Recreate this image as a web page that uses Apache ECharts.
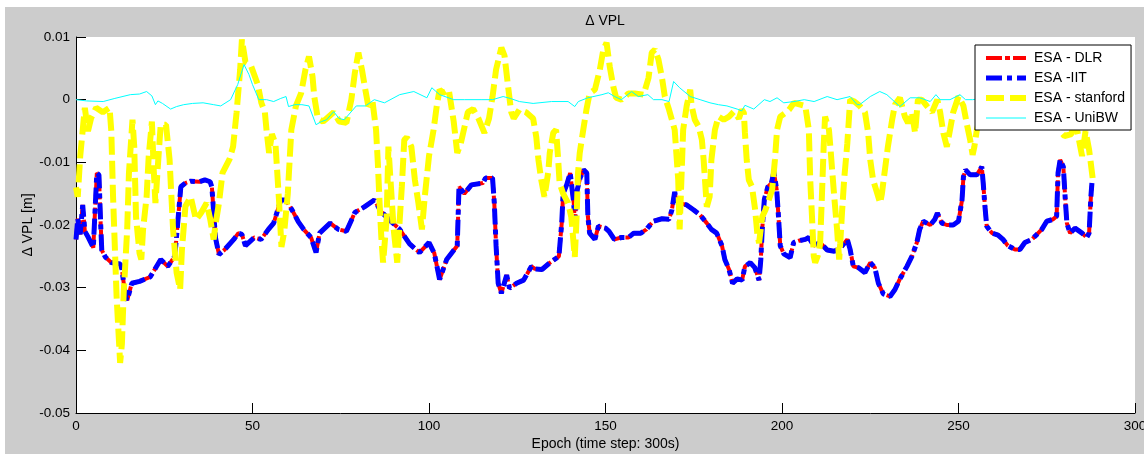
<!DOCTYPE html>
<html lang="en">
<head>
    <meta charset="UTF-8">
    <title>Delta VPL</title>
    <script src="https://cdn.jsdelivr.net/npm/echarts@6/dist/echarts.min.js"></script>
    <style>
        body { margin: 0; background: #ffffff; }
        #main {
            position: absolute;
            left: 5px;
            top: 7px;
            width: 1139px;
            height: 447px;
        }
    </style>
</head>
<body>
<div id="main"></div>
<script>
    // ESA - IIT (blue) : epochs and delta VPL [m]
    const iitEpoch = [0,0.5,1.2,1.9,2.5,3.5,4.9,5.9,6.5,7.0,7.3,8.3,10,12.5,13,14,14.5,15.8,18,21,24,26,28,29.7,31,32.5,35,36.5,38,38.5,39.5,40.5,42,44.7,46,47,48,50.5,52.4,54.5,56,58,59.5,61.5,63,64.5,66.6,68,69,72,74.3,76.6,79,81.7,84.5,86.5,89.4,91.7,94.5,97.3,100,101.5,103,105,108,108.5,110,112,115.3,116,118,118.5,119,119.6,120.5,122,122.8,124.8,126.8,129,130,132,134.3,136.8,137.6,138,139,140,141,141.3,142,142.8,143.8,144.7,145,145.5,147,148,150,151,152.5,154.5,156.5,158,160,161.6,163.5,166,168,168.8,169.6,170,171,173,175,176.8,178.7,180,181.5,183,183.8,185,186,187.3,188.7,189.5,191,192.3,193.5,194,194.4,195,196,197,197.7,198.5,199,199.5,200.5,202.3,203.3,204.8,206.6,207.6,209,210.8,212.8,214.8,216.5,218.5,219.3,220.2,221.6,223.5,225,226.3,227.3,228.7,230.6,232,233.4,235.4,236.8,238.2,239,240,242,243.3,244,245.3,246.7,248.5,250,251,251.4,252,253.3,255.2,256.6,257,257.5,258,259.5,261.2,262.6,264,266,267.4,268.8,270.8,272.2,273.6,275,276.8,277.8,278.2,278.8,279.7,280.2,280.7,281.6,283,285,286.3,287,287.5,287.8];
    const iitValue = [-0.0223,-0.019,-0.0215,-0.0168,-0.021,-0.022,-0.0236,-0.0117,-0.012,-0.020,-0.024,-0.0251,-0.026,-0.0262,-0.027,-0.0314,-0.032,-0.0293,-0.029,-0.0283,-0.0255,-0.0266,-0.025,-0.0139,-0.0133,-0.013,-0.0131,-0.0128,-0.0131,-0.014,-0.022,-0.0247,-0.024,-0.0223,-0.0213,-0.0215,-0.0233,-0.022,-0.0223,-0.0207,-0.0197,-0.016,-0.016,-0.0179,-0.0195,-0.0207,-0.022,-0.0244,-0.0213,-0.0197,-0.0207,-0.021,-0.018,-0.0171,-0.016,-0.0179,-0.0195,-0.0207,-0.023,-0.0244,-0.0228,-0.0245,-0.0287,-0.0255,-0.0233,-0.0139,-0.015,-0.0136,-0.0133,-0.0125,-0.0125,-0.0165,-0.0233,-0.0293,-0.0309,-0.028,-0.0301,-0.0293,-0.0288,-0.0266,-0.027,-0.0271,-0.026,-0.025,-0.0197,-0.015,-0.0136,-0.0117,-0.0165,-0.0197,-0.0144,-0.0125,-0.0112,-0.0117,-0.0186,-0.0213,-0.0223,-0.0202,-0.0205,-0.021,-0.0223,-0.022,-0.022,-0.0213,-0.0213,-0.0207,-0.0194,-0.019,-0.0191,-0.0176,-0.0147,-0.016,-0.0165,-0.0168,-0.0176,-0.0184,-0.0197,-0.0207,-0.0213,-0.0233,-0.0255,-0.0271,-0.0293,-0.0286,-0.0288,-0.0266,-0.026,-0.0268,-0.0288,-0.0255,-0.0207,-0.0159,-0.0139,-0.0133,-0.0115,-0.0144,-0.0186,-0.0233,-0.0246,-0.0252,-0.0228,-0.0225,-0.0223,-0.022,-0.0233,-0.0228,-0.024,-0.0242,-0.0237,-0.0223,-0.0239,-0.0266,-0.0268,-0.0276,-0.026,-0.0268,-0.0293,-0.031,-0.0314,-0.0303,-0.0286,-0.0266,-0.025,-0.0228,-0.0207,-0.0194,-0.02,-0.0191,-0.0181,-0.0197,-0.02,-0.02,-0.0194,-0.016,-0.0123,-0.0112,-0.012,-0.012,-0.0107,-0.0133,-0.0171,-0.0202,-0.0213,-0.0216,-0.0223,-0.0233,-0.0239,-0.0239,-0.0228,-0.0223,-0.0215,-0.0207,-0.0194,-0.0191,-0.0186,-0.0117,-0.0096,-0.0107,-0.0155,-0.0197,-0.0213,-0.0205,-0.0213,-0.022,-0.0213,-0.0155,-0.0133];

    // ESA - DLR (red) : practically identical to IIT in the picture
    const dlrEpoch = [0,0.5,1.2,1.9,2.5,3.5,4.9,5.9,6.5,7.0,7.3,8.3,10,12.5,13,14,14.5,15.8,18,21,24,26,28,29.7,31,32.5,35,36.5,38,38.5,39.5,40.5,42,44.7,46,47,48,50.5,52.4,54.5,56,58,59.5,61.5,63,64.5,66.6,68,69,72,74.3,76.6,79,81.7,84.5,86.5,89.4,91.7,94.5,97.3,100,101.5,103,105,108,108.5,110,112,115.3,116,118,118.5,119,119.6,120.5,122,122.8,124.8,126.8,129,130,132,134.3,136.8,137.6,138,139,140,141,141.3,142,142.8,143.8,144.7,145,145.5,147,148,150,151,152.5,154.5,156.5,158,160,161.6,163.5,166,168,168.8,169.6,170,171,173,175,176.8,178.7,180,181.5,183,183.8,185,186,187.3,188.7,189.5,191,192.3,193.5,194,194.4,195,196,197,197.7,198.5,199,199.5,200.5,202.3,203.3,204.8,206.6,207.6,209,210.8,212.8,214.8,216.5,218.5,219.3,220.2,221.6,223.5,225,226.3,227.3,228.7,230.6,232,233.4,235.4,236.8,238.2,239,240,242,243.3,244,245.3,246.7,248.5,250,251,251.4,252,253.3,255.2,256.6,257,257.5,258,259.5,261.2,262.6,264,266,267.4,268.8,270.8,272.2,273.6,275,276.8,277.8,278.2,278.8,279.7,280.2,280.7,281.6,283,285,286.3,287,287.5,287.8];
    const dlrValue = [-0.0223,-0.019,-0.0215,-0.0168,-0.021,-0.022,-0.0236,-0.0117,-0.012,-0.020,-0.024,-0.0251,-0.026,-0.0262,-0.027,-0.0314,-0.032,-0.0293,-0.029,-0.0283,-0.0255,-0.0266,-0.025,-0.0139,-0.0133,-0.013,-0.0131,-0.0128,-0.0131,-0.014,-0.022,-0.0247,-0.024,-0.0223,-0.0213,-0.0215,-0.0233,-0.022,-0.0223,-0.0207,-0.0197,-0.016,-0.016,-0.0179,-0.0195,-0.0207,-0.022,-0.0244,-0.0213,-0.0197,-0.0207,-0.021,-0.018,-0.0171,-0.016,-0.0179,-0.0195,-0.0207,-0.023,-0.0244,-0.0228,-0.0245,-0.0287,-0.0255,-0.0233,-0.0139,-0.015,-0.0136,-0.0133,-0.0125,-0.0125,-0.0165,-0.0233,-0.0293,-0.0309,-0.028,-0.0301,-0.0293,-0.0288,-0.0266,-0.027,-0.0271,-0.026,-0.025,-0.0197,-0.015,-0.0136,-0.0117,-0.0165,-0.0197,-0.0144,-0.0125,-0.0112,-0.0117,-0.0186,-0.0213,-0.0223,-0.0202,-0.0205,-0.021,-0.0223,-0.022,-0.022,-0.0213,-0.0213,-0.0207,-0.0194,-0.019,-0.0191,-0.0176,-0.0147,-0.016,-0.0165,-0.0168,-0.0176,-0.0184,-0.0197,-0.0207,-0.0213,-0.0233,-0.0255,-0.0271,-0.0293,-0.0286,-0.0288,-0.0266,-0.026,-0.0268,-0.0288,-0.0255,-0.0207,-0.0159,-0.0139,-0.0133,-0.0115,-0.0144,-0.0186,-0.0233,-0.0246,-0.0252,-0.0228,-0.0225,-0.0223,-0.022,-0.0233,-0.0228,-0.024,-0.0242,-0.0237,-0.0223,-0.0239,-0.0266,-0.0268,-0.0276,-0.026,-0.0268,-0.0293,-0.031,-0.0314,-0.0303,-0.0286,-0.0266,-0.025,-0.0228,-0.0207,-0.0194,-0.02,-0.0191,-0.0181,-0.0197,-0.02,-0.02,-0.0194,-0.016,-0.0123,-0.0112,-0.012,-0.012,-0.0107,-0.0133,-0.0171,-0.0202,-0.0213,-0.0216,-0.0223,-0.0233,-0.0239,-0.0239,-0.0228,-0.0223,-0.0215,-0.0207,-0.0194,-0.0191,-0.0186,-0.0117,-0.0096,-0.0107,-0.0155,-0.0197,-0.0213,-0.0205,-0.0213,-0.022,-0.0213,-0.0155,-0.0133];

    // ESA - stanford (yellow)
    const stanfordEpoch = [0,0.5,1.2,2.5,3.4,4.3,5.7,7.6,9.5,10,10.5,11.5,12.5,13,13.5,14.5,15,16,16.5,17,18,18.5,19,20,20.6,21.5,22,22.5,23.5,24,25.5,26.5,27.5,28.5,29.5,30,31,32.5,34,35.5,37,38,39,39.5,40.5,41.5,43.5,44.5,45.5,46.5,47,48,49.5,51.5,52.5,53.5,54,54.7,55.5,56.5,57.5,58.2,59,60,61,62.3,63.8,65,66,67,67.5,68.5,70,71,73,74.6,76.6,78,79,80,81,81.8,82.8,84,85,85.5,86,86.5,87,88,88.5,89,90,91,91.5,92.3,93,93.7,95,96,97,98,98.8,100,101.3,102.2,103,104,105.6,107,108,109,110,111,112.5,114,115.7,117,118,119,120.5,121.4,122.4,123.3,124,125.6,127.5,129.5,130.4,131,131.8,132.7,133.8,134.2,135.2,136,136.6,137,138,139.4,140.3,141.3,141.8,142.2,142.7,143.7,144.6,145.5,147,148.4,149.4,150.3,151.2,152.2,153,154.5,156.5,158.3,160.8,162.2,163.1,164,165,166,166.8,168,169.6,170.6,171,171.5,172,173,174,174.4,175.3,176.4,177.3,177.8,178.7,179.5,180,181,182,183.5,185,186.4,187.8,188.6,189.2,189.5,190,190.6,191.5,192.4,193,193.5,194.4,195.3,197.2,198,198.6,199.5,201,202,203.4,205.2,206.6,207.6,208,208.5,209,209.4,210.4,210.8,211.3,211.8,212.2,213.3,213.7,214.2,214.8,215.6,216.2,216.5,217,217.6,218.5,219,219.3,220.5,222,223.5,224.4,225,225.8,227,227.8,228.3,229.2,230,231.2,232,233.4,234.8,235.7,236.8,237.7,238.5,239.6,241,242.5,244,244.8,245.7,246.7,247.6,248.5,250,251.4,252.4,253.3,254,254.5,255.2,257,259,261,263,265,267,269,271,273,275,277,278.8,280,282,283,284.5,285,286,287,288];
    const stanfordValue = [-0.014,-0.0155,-0.009,-0.0013,-0.005,-0.0029,-0.0013,-0.002,-0.0013,-0.005,-0.0155,-0.0314,-0.042,-0.039,-0.031,-0.0207,-0.0117,-0.0032,-0.0075,-0.0187,-0.0245,-0.0255,-0.0207,-0.0155,-0.009,-0.0035,-0.011,-0.0165,-0.008,-0.004,-0.004,-0.0095,-0.0207,-0.0276,-0.0303,-0.024,-0.017,-0.0155,-0.0192,-0.018,-0.0165,-0.019,-0.0223,-0.020,-0.0165,-0.0117,-0.0095,-0.0075,-0.002,0.0048,0.0096,0.006,0.0055,0.0024,-0.0005,-0.002,-0.005,-0.0085,-0.0055,-0.007,-0.016,-0.0235,-0.021,-0.015,-0.0048,-0.001,0.0011,0.0048,0.0069,0.0037,0.0005,-0.003,-0.0035,-0.003,-0.002,-0.0035,-0.0037,0,0.0043,0.0075,0.0048,0.0021,-0.001,-0.0003,-0.0048,-0.010,-0.0165,-0.022,-0.026,-0.019,-0.0075,-0.012,-0.0207,-0.026,-0.021,-0.0139,-0.0064,-0.006,-0.0075,-0.0128,-0.0165,-0.0207,-0.0155,-0.009,-0.0048,-0.001,0.0016,0.0011,0.0016,-0.0035,-0.0085,-0.007,-0.0045,-0.002,-0.0015,-0.003,-0.0053,-0.003,0.0005,0.0048,0.0083,0.007,0.0021,-0.002,-0.003,-0.0016,-0.002,-0.003,-0.006,-0.0096,-0.0128,-0.0155,-0.0115,-0.0085,-0.0053,-0.0048,-0.0096,-0.0133,-0.015,-0.0165,-0.0187,-0.0251,-0.019,-0.0118,-0.0085,-0.0048,-0.0016,0.001,0.0016,0.0048,0.008,0.0091,0.0053,0.0021,0.0003,0,0.001,0.001,0.0008,0.0035,0.0075,0.008,0.0064,0.0035,0.0005,-0.0016,-0.0048,-0.0128,-0.0207,-0.0128,-0.0048,-0.001,0.0016,-0.001,-0.0032,-0.0043,-0.0064,-0.0096,-0.0171,-0.0155,-0.0096,-0.0048,-0.0027,-0.0032,-0.0027,-0.0019,-0.003,-0.0016,-0.0021,-0.0053,-0.0096,-0.0128,-0.0139,-0.0176,-0.0213,-0.0229,-0.0187,-0.0176,-0.0144,-0.0096,-0.0048,-0.0027,-0.0021,-0.0016,-0.0005,-0.0008,-0.001,-0.0048,-0.0128,-0.0187,-0.025,-0.026,-0.0245,-0.0229,-0.0155,-0.0075,-0.0027,-0.0048,-0.0075,-0.0112,-0.0155,-0.0207,-0.0255,-0.0229,-0.018,-0.0128,-0.007,-0.0027,0,-0.0003,-0.001,-0.002,-0.0053,-0.0096,-0.0128,-0.015,-0.0165,-0.015,-0.011,-0.0075,-0.0032,-0.0008,0.0003,-0.0027,-0.0037,-0.002,-0.0053,0,0,-0.001,-0.002,0,-0.002,-0.0053,-0.0075,-0.0048,-0.002,0.0005,-0.001,-0.004,-0.0064,-0.0088,-0.0075,-0.0048,-0.001,0.002,-0.002,-0.004,0.001,0.003,-0.001,-0.003,0,0.002,-0.002,-0.005,-0.0058,-0.0055,-0.003,-0.0075,-0.009,-0.005,-0.008,-0.0125];

    // ESA - UniBW (cyan)
    const unibwEpoch = [0,3,7.7,11,15.4,18,20,21.5,22.5,23.2,24.5,26.8,28.5,30.5,33,36,39,41,43.8,45.8,47.6,49,50,51.8,54,56,58,59.5,60.2,62,64,66,68,69.5,71,73,74.5,76,79.4,82,84.5,87.4,91.7,95.7,99.4,100.8,103,107,110,115,118,121,123,125.6,129.5,134.7,139.4,141.3,142.3,145,149,150.8,152.6,154.5,157.4,159.3,162,163.6,166,168,169.3,171,174,176.8,179.6,182,184.4,187.3,188.6,189.5,192,195,196.6,198.6,200.5,203.4,206.3,209.1,212.8,215.6,219.3,221.3,222,225,227.7,229.7,233.4,236.3,239,242,243.6,244.8,247.6,250.4,252,254,258,262,266,270,274,278,282,286,288];
    const unibwValue = [0,-0.0002,-0.0003,0.0002,0.0008,0.0009,0.0013,0.0006,-0.0008,-0.0002,-0.0006,-0.0015,-0.0011,-0.0008,-0.0006,-0.0005,-0.0008,-0.001,0,0.0024,0.0056,0.004,0.0024,0,0,-0.0003,0.0002,0.0005,-0.0011,-0.0008,-0.0008,-0.001,-0.004,-0.0035,-0.0032,-0.0019,-0.003,-0.0032,-0.001,-0.001,0,-0.0005,0.0008,0.0013,0.0003,0.0019,0.0008,0,0,0,0,0.0005,0.0002,-0.0003,-0.0006,-0.0003,-0.0003,-0.0011,-0.0003,0.0003,0.0008,0.0011,0.0005,0,0.0013,0.0005,0.0008,0,0,-0.0003,0.0029,0.0019,0.0005,0,-0.0005,-0.0008,-0.001,-0.0015,-0.0018,-0.0009,-0.0015,0,-0.0003,0.0003,-0.0005,-0.0003,0,-0.0003,0.0005,0,0.0005,-0.0008,-0.0008,0.0005,0.0013,0.0008,-0.0011,0.0003,0.0003,-0.0003,0.0008,0,0,0.0008,0,0,0.0003,-0.0002,0.0004,0,0.0002,-0.0003,0.0002,0,0];

    const xTicks = [0, 50, 100, 150, 200, 250, 300];
    const yTicks = [-0.05, -0.04, -0.03, -0.02, -0.01, 0, 0.01];

    function pairs(xs, ys) {
        return xs.map(function (x, i) { return [x, ys[i]]; });
    }

    const FONT = '"Liberation Sans", Arial, Helvetica, sans-serif';

    const chart = echarts.init(document.getElementById('main'));
    const option = {
        animation: false,
        backgroundColor: '#cccccc',
        graphic: [{
            type: 'text',
            x: 600,
            y: 14,
            style: {
                text: 'Δ VPL',
                font: '14px ' + FONT,
                fill: '#000',
                align: 'center',
                verticalAlign: 'middle'
            }
        }],
        grid: {
            left: 71,
            top: 30,
            width: 1059,
            height: 376,
            outerBoundsMode: 'none',
            show: true,
            backgroundColor: '#ffffff',
            borderWidth: 0
        },
        legend: {
            data: ['ESA - DLR', 'ESA -IIT', 'ESA - stanford', 'ESA - UniBW'],
            orient: 'vertical',
            left: 970,
            top: 38,
            backgroundColor: '#ffffff',
            borderColor: '#000000',
            borderWidth: 1,
            borderRadius: 0,
            padding: [6, 6, 5, 8],
            itemGap: 6,
            itemWidth: 40,
            itemHeight: 14,
            selectedMode: false,
            itemStyle: { opacity: 0 },
            lineStyle: { width: 'inherit', type: 'inherit' },
            textStyle: { fontFamily: FONT, fontSize: 14, color: '#000', padding: [0, 0, 0, 3] }
        },
        xAxis: {
            type: 'value',
            min: xTicks[0],
            max: xTicks[xTicks.length - 1],
            interval: 50,
            name: 'Epoch (time step: 300s)',
            nameLocation: 'middle',
            nameGap: 24,
            nameMoveOverlap: false,
            nameTextStyle: { fontFamily: FONT, fontSize: 14, color: '#000' },
            axisLine: { onZero: false, lineStyle: { color: '#000', width: 1 } },
            axisTick: { inside: true, length: 10, lineStyle: { color: '#000' } },
            axisLabel: { margin: 6, fontFamily: FONT, fontSize: 13.5, color: '#000' },
            splitLine: { show: false }
        },
        yAxis: {
            type: 'value',
            min: yTicks[0],
            max: yTicks[yTicks.length - 1],
            interval: 0.01,
            name: 'Δ VPL [m]',
            nameLocation: 'middle',
            nameRotate: 90,
            nameGap: 41,
            nameMoveOverlap: false,
            nameTextStyle: { fontFamily: FONT, fontSize: 14, color: '#000' },
            axisLine: { show: true, lineStyle: { color: '#000', width: 1 } },
            axisTick: { show: true, inside: true, length: 10, lineStyle: { color: '#000' } },
            axisLabel: {
                margin: 6,
                fontFamily: FONT,
                fontSize: 13.5,
                color: '#000',
                formatter: function (v) { return Math.abs(v) < 1e-9 ? '0' : v.toFixed(2); }
            },
            splitLine: { show: false }
        },
        series: [
            {
                name: 'ESA - DLR',
                type: 'line',
                symbol: 'none',
                data: pairs(dlrEpoch, dlrValue),
                lineStyle: { color: '#ff0000', width: 4, type: [16, 3, 5, 3], cap: 'butt' },
                itemStyle: { color: '#ff0000' }
            },
            {
                name: 'ESA -IIT',
                type: 'line',
                symbol: 'none',
                data: pairs(iitEpoch, iitValue),
                lineStyle: { color: '#0000ff', width: 5, type: [16, 5, 5, 5], cap: 'butt' },
                itemStyle: { color: '#0000ff' }
            },
            {
                name: 'ESA - stanford',
                type: 'line',
                symbol: 'none',
                data: pairs(stanfordEpoch, stanfordValue),
                lineStyle: { color: '#ffff00', width: 6, type: [18, 6], cap: 'butt' },
                itemStyle: { color: '#ffff00' }
            },
            {
                name: 'ESA - UniBW',
                type: 'line',
                symbol: 'none',
                data: pairs(unibwEpoch, unibwValue),
                lineStyle: { color: '#00ffff', width: 1 },
                itemStyle: { color: '#00ffff' }
            }
        ]
    };
    chart.setOption(option);
</script>
</body>
</html>
